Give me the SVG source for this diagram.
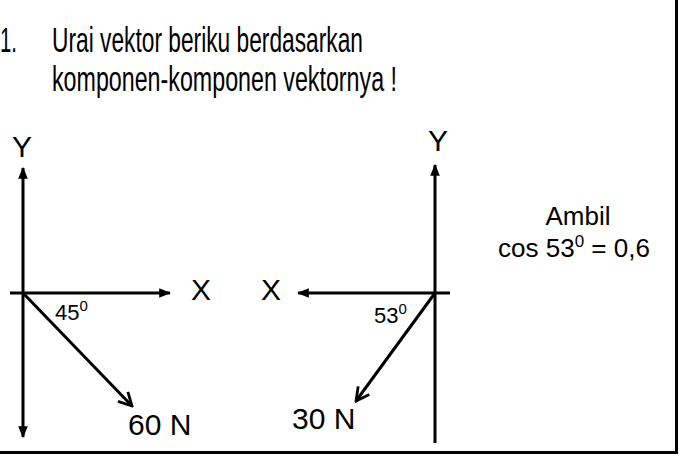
<svg xmlns="http://www.w3.org/2000/svg" width="684" height="462" viewBox="0 0 684 462">
<style>
text{font-family:"Liberation Sans",Arial,sans-serif;fill:#000}
.ax{stroke:#000;stroke-width:3;fill:none}
.vec{stroke:#000;stroke-width:3;fill:none}
.lbl{font-size:30px}
.ang{font-size:22px}
.t{font-size:35px}
</style>
<defs>
<marker id="tri" viewBox="0 0 10 10" refX="9" refY="5" markerWidth="4" markerHeight="4" orient="auto-start-reverse" markerUnits="strokeWidth">
<path d="M0,1 L10,5 L0,9 Z" fill="#000"/>
</marker>
<marker id="chev" viewBox="0 0 12 12" refX="10.5" refY="6" markerWidth="5.5" markerHeight="5.5" orient="auto" markerUnits="strokeWidth">
<path d="M1,1 L10.5,6 L1,11" fill="none" stroke="#000" stroke-width="2"/>
</marker>
</defs>
<rect width="684" height="462" fill="#fff"/>
<g id="border">
<line x1="676.5" y1="0" x2="676.5" y2="454" stroke="#000" stroke-width="3"/>
<line x1="0" y1="452.5" x2="678" y2="452.5" stroke="#000" stroke-width="3"/>
</g>
<g id="title">
<text class="t" x="0" y="52" textLength="17" lengthAdjust="spacingAndGlyphs">1.</text>
<text class="t" x="52" y="52" textLength="311" lengthAdjust="spacingAndGlyphs">Urai vektor beriku berdasarkan</text>
<text class="t" x="52" y="91" textLength="345" lengthAdjust="spacingAndGlyphs">komponen-komponen vektornya !</text>
</g>
<g id="diagram-left">
<text class="lbl" x="22" y="157" text-anchor="middle">Y</text>
<text class="lbl" x="201" y="300" text-anchor="middle">X</text>
<text class="ang" x="55" y="320">45<tspan font-size="15" dy="-9">0</tspan></text>
<text class="lbl" x="128" y="435">60 N</text>
</g>
<g id="diagram-right">
<text class="lbl" x="438" y="151" text-anchor="middle">Y</text>
<text class="lbl" x="271" y="300" text-anchor="middle">X</text>
<text class="ang" x="374" y="323">53<tspan font-size="15" dy="-9">0</tspan></text>
<text class="lbl" x="292" y="429">30 N</text>
</g>
<g id="note">
<text x="578" y="225" font-size="26" text-anchor="middle">Ambil</text>
<text x="574" y="257" font-size="26" text-anchor="middle">cos 53<tspan font-size="17" dy="-10">0</tspan><tspan dy="10"> = 0,6</tspan></text>
</g>
<g id="connectors">
<line class="ax" x1="23" y1="437" x2="23" y2="168" marker-start="url(#tri)" marker-end="url(#tri)"/>
<line class="ax" x1="10" y1="293" x2="170" y2="293" marker-end="url(#tri)"/>
<line class="vec" x1="23" y1="293" x2="132" y2="406" marker-end="url(#chev)"/>
<line class="ax" x1="435" y1="443" x2="435" y2="165" marker-end="url(#tri)"/>
<line class="ax" x1="450" y1="293" x2="298" y2="293" marker-end="url(#tri)"/>
<line class="vec" x1="435" y1="293" x2="356" y2="401" marker-end="url(#chev)"/>
</g>
</svg>
